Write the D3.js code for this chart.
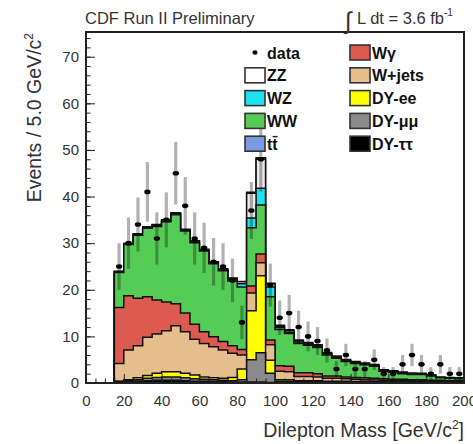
<!DOCTYPE html>
<html>
<head>
<meta charset="utf-8">
<script src="https://cdn.jsdelivr.net/npm/d3@7"></script>
<style>
html, body { margin: 0; padding: 0; background: #fff; }
svg { display: block; font-family: "Liberation Sans", Arial, Helvetica, sans-serif; }
</style>
</head>
<body>
<svg id="chart" width="473" height="444"></svg>
<script>
// dilepton mass, 5 GeV bins (lower edges)
const binLow = [15, 20, 25, 30, 35, 40, 45, 50, 55, 60, 65, 70, 75, 80, 85, 90, 95, 100, 105, 110,
                115, 120, 125, 130, 135, 140, 145, 150, 155, 160, 165, 170, 175, 180, 185, 190, 195];
const BIN_W = 5;

// observed events and their errors
const dataCounts = [25, 30, 34, 41, 31, 35, 45, 38, 31, 29, 26, 25, 22, 13, 37, 48, 21, 14, 15, 12,
                    10, 9, 7, 3, 6, 3, 3, 5, 2, 2, 4, 6, 4, 2, 4, 2, 2];
const dataErr = [5, 5.5, 5.8, 6.4, 5.6, 5.9, 6.7, 6.2, 5.6, 5.4, 5.1, 5, 4.7, 3.6, 6.1, 6.9, 4.6, 3.7, 3.9, 3.5,
                 3.2, 3, 2.6, 1.7, 2.4, 1.7, 1.7, 2.2, 1.4, 1.4, 2, 2.4, 2, 1.4, 2, 1.4, 1.4];

// expected backgrounds / signal, stacked bottom -> top
const dyTauTau = [0.2, 0.3, 0.4, 0.5, 0.6, 0.6, 0.6, 0.5, 0.4, 0.4, 0.3, 0.3, 0.2, 0.2, 0.2, 0.2, 0.1, 0.1, 0.1, 0.1,
                  0.1, 0.1, 0.1, 0.1, 0.1, 0.1, 0.1, 0.05, 0.05, 0.05, 0.05, 0.05, 0.05, 0.05, 0.05, 0.05, 0.05];
const dyMuMu = [0.1, 0.2, 0.3, 0.5, 0.6, 0.7, 0.7, 0.6, 0.5, 0.4, 0.4, 0.3, 0.3, 0.5, 4.8, 6.3, 2.0, 0.3, 0.3, 0.2,
                0.2, 0.2, 0.15, 0.15, 0.15, 0.1, 0.1, 0.1, 0.1, 0.1, 0.1, 0.1, 0.1, 0.1, 0.1, 0.1, 0.1];
const dyEE = [0.1, 0.2, 0.4, 0.6, 0.9, 1.1, 1.1, 1.0, 0.8, 0.5, 0.4, 0.4, 0.7, 2.3, 10.5, 16.5, 2.8, 0.3, 0.3, 0.2,
              0.2, 0.2, 0.15, 0.15, 0.15, 0.1, 0.1, 0.1, 0.1, 0.1, 0.1, 0.1, 0.1, 0.1, 0.1, 0.1, 0.1];
const wJets = [3.8, 6.4, 6.9, 8.2, 8.4, 8.8, 9.9, 8.9, 7.7, 7.2, 6.7, 6.1, 5.2, 3.0, 3.8, 2.8, 3.3, 1.8, 1.7, 0.9,
               0.9, 0.8, 0.6, 0.6, 0.5, 0.5, 0.4, 0.4, 0.35, 0.3, 0.3, 0.25, 0.25, 0.2, 0.2, 0.15, 0.15];
const wGamma = [12.0, 11.6, 10.2, 8.7, 7.3, 6.2, 4.7, 4.0, 3.2, 2.5, 2.1, 1.8, 1.6, 1.2, 1.5, 1.9, 1.0, 1.2, 1.2, 0.8,
                0.8, 0.7, 0.5, 0.5, 0.4, 0.4, 0.4, 0.35, 0.3, 0.25, 0.25, 0.2, 0.2, 0.15, 0.15, 0.1, 0.1];
const ww = [7.5, 11.0, 13.5, 14.7, 15.8, 17.2, 19.1, 17.6, 17.5, 17.3, 15.7, 15.2, 13.9, 13.4, 12.5, 10.5, 9.3, 7.8, 7.0, 6.3,
            5.9, 5.6, 4.5, 3.8, 3.3, 3.0, 2.8, 2.6, 1.6, 1.5, 1.2, 1.1, 1.1, 0.9, 0.5, 0.5, 0.4];
const wz = [0.1, 0.1, 0.1, 0.1, 0.2, 0.2, 0.2, 0.2, 0.2, 0.2, 0.2, 0.2, 0.3, 0.7, 2.1, 3.6, 2.1, 0.4, 0.3, 0.3,
            0.2, 0.2, 0.2, 0.15, 0.15, 0.1, 0.1, 0.1, 0.1, 0.1, 0.1, 0.1, 0.1, 0.1, 0.05, 0.05, 0.05];
const zz = [0.1, 0.1, 0.1, 0.1, 0.1, 0.1, 0.1, 0.1, 0.1, 0.1, 0.1, 0.1, 0.2, 0.4, 5.3, 6.2, 0.7, 0.3, 0.3, 0.2,
            0.2, 0.2, 0.15, 0.15, 0.1, 0.1, 0.1, 0.1, 0.1, 0.1, 0.1, 0.1, 0.05, 0.05, 0.05, 0.05, 0.05];
const ttbar = [0.1, 0.1, 0.1, 0.1, 0.1, 0.1, 0.1, 0.1, 0.1, 0.1, 0.1, 0.1, 0.1, 0.1, 0.2, 0.3, 0.1, 0.2, 0.2, 0.2,
               0.2, 0.2, 0.2, 0.2, 0.2, 0.2, 0.2, 0.15, 0.15, 0.15, 0.15, 0.15, 0.15, 0.1, 0.1, 0.1, 0.1];

const xTicks = [0, 20, 40, 60, 80, 100, 120, 140, 160, 180, 200];
const yTicks = [0, 10, 20, 30, 40, 50, 60, 70];

const layers = [
    { key: 'DY-ττ',  vals: dyTauTau, color: '#000000' },
    { key: 'DY-μμ',  vals: dyMuMu,   color: '#8a8a8a' },
    { key: 'DY-ee',  vals: dyEE,     color: '#ffff00' },
    { key: 'W+jets', vals: wJets,    color: '#e6bd8c' },
    { key: 'Wγ',     vals: wGamma,   color: '#dc5a50' },
    { key: 'WW',     vals: ww,       color: '#55cc55' },
    { key: 'WZ',     vals: wz,       color: '#1ee2f2' },
    { key: 'ZZ',     vals: zz,       color: '#ececec' },
    { key: 'tt\u0304', vals: ttbar,  color: '#7b9be0' }
];

// legend: two columns, top to bottom
const legendLeft  = ['data', 'ZZ', 'WZ', 'WW', 'tt\u0304'];
const legendRight = ['Wγ', 'W+jets', 'DY-ee', 'DY-μμ', 'DY-ττ'];

const PLOT = { left: 86, right: 464, top: 32, bottom: 383 };
const svg = d3.select('#chart');
svg.append('rect').attr('width', 473).attr('height', 444).attr('fill', '#fff');

const x = d3.scaleLinear().domain([0, 200]).range([PLOT.left, PLOT.right]);
const y = d3.scaleLinear().domain([0, 75.3]).range([PLOT.bottom, PLOT.top]);

// cumulative stack
let running = binLow.map(() => 0);
const stacked = layers.map(l => {
    running = running.map((r, i) => r + l.vals[i]);
    return { ...l, top: running };
});

const area = d3.area()
    .curve(d3.curveStepAfter)
    .x(d => x(d[0]))
    .y0(y(0))
    .y1(d => y(d[1]));

const histG = svg.append('g');
// ROOT style: draw the full cumulative histograms from the top one down
stacked.slice().reverse().forEach(l => {
    const pts = binLow.map((b, i) => [b, l.top[i]]);
    pts.push([binLow[binLow.length - 1] + BIN_W, l.top[l.top.length - 1]]);
    histG.append('path')
        .attr('d', area(pts))
        .attr('fill', l.color)
        .attr('stroke', '#111')
        .attr('stroke-width', 1.5)
        .attr('stroke-linejoin', 'miter');
});

// data points
const dataG = svg.append('g');
binLow.forEach((b, i) => {
    const v = dataCounts[i];
    if (!v) return;
    const cx = x(b + BIN_W / 2);
    dataG.append('line')
        .attr('x1', cx).attr('x2', cx)
        .attr('y1', y(v - dataErr[i])).attr('y2', y(v + dataErr[i]))
        .attr('stroke', '#000').attr('stroke-opacity', 0.3).attr('stroke-width', 3.2);
    dataG.append('ellipse')
        .attr('cx', cx).attr('cy', y(v))
        .attr('rx', 3.2).attr('ry', 2.3)
        .attr('fill', '#000');
});

// axes (ticks point inward, ROOT style)
const yAxis = svg.append('g').attr('transform', `translate(${PLOT.left},0)`)
    .call(d3.axisLeft(y).tickValues(yTicks).tickSize(-9).tickSizeOuter(0).tickPadding(7));
const yMinor = svg.append('g').attr('transform', `translate(${PLOT.left},0)`)
    .call(d3.axisLeft(y).tickValues(d3.range(0, 75, 2)).tickSize(-4.5).tickSizeOuter(0).tickFormat(''));
const xAxis = svg.append('g').attr('transform', `translate(0,${PLOT.bottom})`)
    .call(d3.axisBottom(x).tickValues(xTicks).tickSize(-9).tickSizeOuter(0).tickPadding(12));
const xMinor = svg.append('g').attr('transform', `translate(0,${PLOT.bottom})`)
    .call(d3.axisBottom(x).tickValues(d3.range(0, 201, 5)).tickSize(-4.5).tickSizeOuter(0).tickFormat(''));

[yAxis, yMinor, xAxis, xMinor].forEach(a => {
    a.select('.domain').remove();
    a.selectAll('line').attr('stroke', '#222').attr('stroke-width', 1);
    a.selectAll('text')
        .attr('font-family', '"Liberation Sans", Arial, Helvetica, sans-serif')
        .attr('font-size', 15).attr('fill', '#333');
});

// frame
svg.append('rect')
    .attr('x', PLOT.left).attr('y', PLOT.top)
    .attr('width', PLOT.right - PLOT.left).attr('height', PLOT.bottom - PLOT.top)
    .attr('fill', 'none').attr('stroke', '#222').attr('stroke-width', 2);

// axis titles
const yTitle = svg.append('text')
    .attr('transform', `translate(41,${PLOT.top + 1}) rotate(-90)`)
    .attr('text-anchor', 'end').attr('font-size', 19.5).attr('fill', '#333');
yTitle.append('tspan').text('Events / 5.0 GeV/c');
yTitle.append('tspan').attr('dy', -8).attr('font-size', 12).text('2');

const xTitle = svg.append('text')
    .attr('x', PLOT.right).attr('y', 437)
    .attr('text-anchor', 'end').attr('font-size', 19.5).attr('fill', '#333');
xTitle.append('tspan').text('Dilepton Mass [GeV/c');
xTitle.append('tspan').attr('dy', -8).attr('font-size', 12).text('2');
xTitle.append('tspan').attr('dy', 8).text(']');

// header texts
svg.append('text').attr('x', 85).attr('y', 24)
    .attr('font-size', 16.5).attr('fill', '#333').text('CDF Run II Preliminary');
svg.append('text').attr('x', 345).attr('y', 29)
    .attr('font-size', 24).attr('fill', '#333').text('∫');
const lumi = svg.append('text').attr('x', 357).attr('y', 24)
    .attr('font-size', 16.5).attr('fill', '#333');
lumi.append('tspan').text('L dt = 3.6 fb');
lumi.append('tspan').attr('dy', -8).attr('font-size', 10).text('-1');

// legend
const LEG = { rowH: 22.8, y0: 52.5, col1: 245, col2: 350, sw: 20, sh: 15 };
const colorOf = k => layers.find(l => l.key === k).color;
const legG = svg.append('g').attr('font-size', 16).attr('font-weight', 'bold').attr('fill', '#111');

function legendEntry(k, col, row) {
    const cy = LEG.y0 + row * LEG.rowH;
    if (k === 'data') {
        legG.append('ellipse').attr('cx', col + 10).attr('cy', cy)
            .attr('rx', 2.6).attr('ry', 2.2).attr('fill', '#000');
    } else {
        legG.append('rect')
            .attr('x', col).attr('y', cy - LEG.sh / 2)
            .attr('width', LEG.sw).attr('height', LEG.sh)
            .attr('fill', k === 'ZZ' ? '#fff' : colorOf(k))
            .attr('stroke', '#333').attr('stroke-width', 1.6);
    }
    legG.append('text').attr('x', col + LEG.sw + 2).attr('y', cy + 6).text(k);
}
legendLeft.forEach((k, i) => legendEntry(k, LEG.col1, i));
legendRight.forEach((k, i) => legendEntry(k, LEG.col2, i));
</script>
</body>
</html>
